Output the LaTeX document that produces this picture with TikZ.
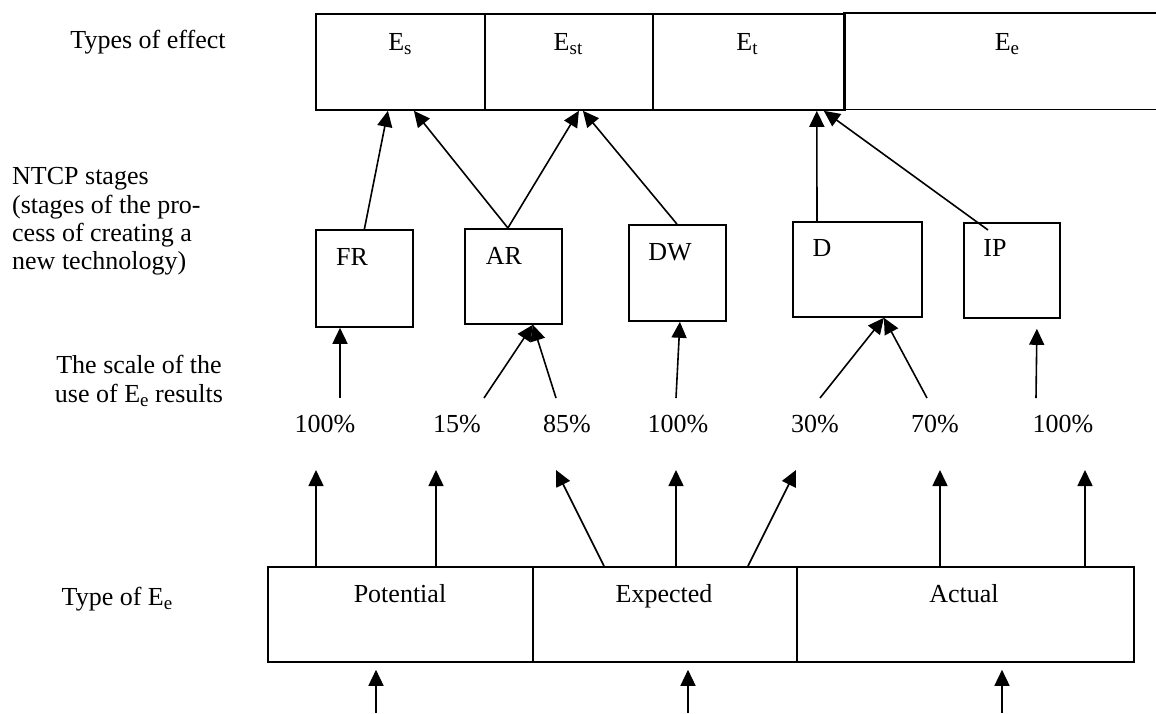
\documentclass[tikz,border=0pt]{standalone}
\usepackage{fontspec}
\setmainfont{Liberation Serif}
\usetikzlibrary{arrows.meta,calc}
\newcommand\lowsub[1]{\raisebox{-4pt}{\fontsize{19}{19}\selectfont #1}}
\begin{document}
\begin{tikzpicture}[x=1pt,y=-1pt,
  font=\fontsize{26}{29.5}\selectfont,
  cell/.style={draw, line width=1.8pt, inner sep=0pt, anchor=north west},
  txt/.style={inner sep=0pt, anchor=base},
  txtl/.style={inner sep=0pt, anchor=base west},
  arr/.style={line width=1.6pt, -{Triangle[length=16pt,width=15pt]}}]
\useasboundingbox (0,0) rectangle (1156,713);

% ---- left column texts
\node[txt] (lt1) at (148,48) {Types of effect};
\node[txtl] (lt2a) at (12,184) {NTCP stages};
\node[txtl] (lt2b) at (12,213) {(stages of the pro-};
\node[txtl] (lt2c) at (12,241) {cess of creating a};
\node[txtl] (lt2d) at (12,269) {new technology)};
\node[txt] (lt3a) at (139,373) {The scale of the};
\node[txt] (lt3b) at (139,402) {use of E\lowsub{e} results};
\node[txt] (lt4) at (117,605) {Type of E\lowsub{e}};

% ---- types of effect
\node[cell, minimum width=169pt, minimum height=96pt] (es) at (315,13) {};
\node[cell, minimum width=168pt, minimum height=96pt] (est) at (484,13) {};
\node[cell, minimum width=191pt, minimum height=96pt] (et) at (652,13) {};
\node[inner sep=0pt, anchor=north west, minimum width=313pt, minimum height=96pt] (ee) at (843,13) {};
\draw[line width=1.8pt] (ee.north west) -- (ee.north east) (ee.south west) -- (ee.south east);
\draw[line width=2.4pt] (et.north east) -- (et.south east);
\node[txt] (esl) at (400,50) {E\lowsub{s}};
\node[txt] (estl) at (568,50) {E\lowsub{st}};
\node[txt] (etl) at (747,50) {E\lowsub{t}};
\node[txt] (eel) at (1007,50) {E\lowsub{e}};

% ---- NTCP stages
\node[cell, minimum width=97pt, minimum height=97pt] (fr) at (315,229) {};
\node[cell, minimum width=97pt, minimum height=95pt] (ar) at (464,228) {};
\node[cell, minimum width=97pt, minimum height=96pt] (dw) at (628,224) {};
\node[cell, minimum width=129pt, minimum height=95pt] (d) at (792,221) {};
\node[cell, minimum width=96pt, minimum height=95pt] (ip) at (963,222) {};
\node[txt] (frl) at (352,265) {FR};
\node[txt] (arl) at (504,264) {AR};
\node[txt] (dwl) at (670,260) {DW};
\node[txt] (dl) at (822,256) {D};
\node[txt] (ipl) at (995,256) {IP};

\draw[arr] (fr.north) -- ($(es.south)+(-12.5,0)$);
\draw[arr] ($(ar.north)+(-5.5,0)$) -- ($(es.south)+(13.5,0)$);
\draw[arr] ($(ar.north)+(-5.5,0)$) -- ($(est.south)+(10,0)$);
\draw[arr] ($(dw.north)+(-0.5,0)$) -- ($(est.south)+(14,0)$);
\draw[arr] ($(d.north west)+(25,0)$) -- ($(et.south east)+(-28,0)$);
\draw[arr] ($(ip.north west)+(25,8)$) -- ($(et.south east)+(-21,0)$);

% ---- percentages
\node[txt] (p1) at (325,432) {100\%};
\node[txt] (p2) at (457,432) {15\%};
\node[txt] (p3) at (567,432) {85\%};
\node[txt] (p4) at (678,432) {100\%};
\node[txt] (p5) at (815,432) {30\%};
\node[txt] (p6) at (935,432) {70\%};
\node[txt] (p7) at (1063,432) {100\%};

\coordinate (t1) at (340,398);
\coordinate (t2) at (484,398);
\coordinate (t3) at (556,398);
\coordinate (t4) at (676,398);
\coordinate (t5) at (820,398);
\coordinate (t6) at (927,398);
\coordinate (t7) at (1036,398);
\draw[arr] (t1) -- ($(fr.south west)+(25,0)$);
\draw[arr] (t2) -- ($(ar.south)+(19.5,0)$);
\draw[arr] (t3) -- ($(ar.south)+(19.5,0)$);
\draw[arr] (t4) -- ($(dw.south)+(2.5,0)$);
\draw[arr] (t5) -- ($(d.south)+(26.5,0)$);
\draw[arr] (t6) -- ($(d.south)+(26.5,0)$);
\draw[arr] (t7) -- ($(ip.south)+(25,10)$);

% ---- type of Ee
\node[cell, minimum width=265pt, minimum height=95pt] (pot) at (267,566) {};
\node[cell, minimum width=264pt, minimum height=95pt] (exp) at (532,566) {};
\node[cell, minimum width=337pt, minimum height=95pt] (act) at (796,566) {};
\node[txt] (potl) at (400,602) {Potential};
\node[txt] (expl) at (664,602) {Expected};
\node[txt] (actl) at (964,602) {Actual};

\coordinate (h1) at (316,470);
\coordinate (h2) at (436,470);
\coordinate (h3) at (556,470);
\coordinate (h4) at (676,470);
\coordinate (h5) at (796,470);
\coordinate (h6) at (940,470);
\coordinate (h7) at (1085,470);
\draw[arr] ($(pot.north west)+(49,0)$) -- (h1);
\draw[arr] ($(pot.north west)+(169,0)$) -- (h2);
\draw[arr] ($(exp.north west)+(72,0)$) -- (h3);
\draw[arr] ($(exp.north west)+(144,0)$) -- (h4);
\draw[arr] ($(exp.north west)+(216,0)$) -- (h5);
\draw[arr] ($(act.north west)+(144,0)$) -- (h6);
\draw[arr] ($(act.north west)+(289,0)$) -- (h7);

\coordinate (b1) at (376,713);
\coordinate (b2) at (688,713);
\coordinate (b3) at (1002,713);
\draw[arr] (b1) -- ($(pot.south west)+(109,7)$);
\draw[arr] (b2) -- ($(exp.south west)+(156,7)$);
\draw[arr] (b3) -- ($(act.south west)+(206,7)$);
\end{tikzpicture}
\end{document}
